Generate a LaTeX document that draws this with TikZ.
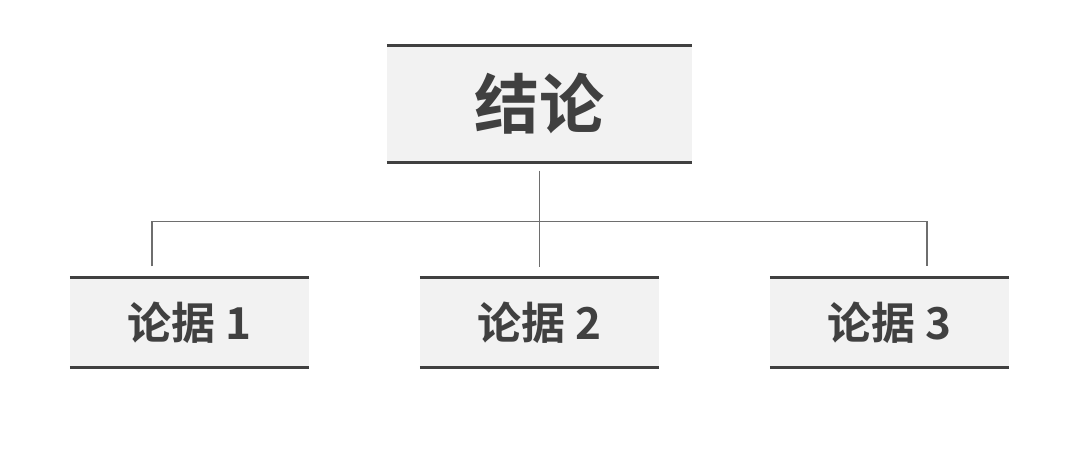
\documentclass[tikz,border=0pt]{standalone}
\usepackage{fontspec}
\setmainfont{Noto Sans CJK SC}[BoldFont={* Bold}]
\usepackage{xcolor}
\definecolor{boxfill}{RGB}{242,242,242}
\definecolor{barline}{RGB}{64,64,64}
\definecolor{linkline}{RGB}{110,110,110}
\usepackage{tikz}

\begin{document}
\begin{tikzpicture}[x=1pt,y=-1pt,
    card/.style={fill=boxfill, inner sep=0pt, text=barline, font=\bfseries},
    bar/.style={draw=barline, line width=3pt},
    link/.style={draw=linkline, line width=1.6pt}
]
    \useasboundingbox (0,0) rectangle (1080,465);
    % conclusion box
    \node [card, minimum width=305pt, minimum height=117pt, font=\bfseries\fontsize{65}{65}\selectfont] (conclusion) at (539.5,104) {结论};
    \draw [bar] (conclusion.north west) -- (conclusion.north east);
    \draw [bar] (conclusion.south west) -- (conclusion.south east);
    % argument boxes
    \foreach \n/\x in {1/189.5, 2/539.5, 3/889.5} {
        \node [card, minimum width=239pt, minimum height=90pt, font=\bfseries\fontsize{44}{44}\selectfont] (arg\n) at (\x,322.5) {论据 \n};
        \draw [bar] (arg\n.north west) -- (arg\n.north east);
        \draw [bar] (arg\n.south west) -- (arg\n.south east);
    }
    % connectors
    \coordinate (hub) at (539.5,221.5);
    \draw [link] ([yshift=-8pt]conclusion.south) -- ([yshift=10pt]arg2.north);
    \draw [link] ([xshift=-37.5pt,yshift=11pt]arg1.north) |- (hub) -| ([xshift=37.5pt,yshift=11pt]arg3.north);
\end{tikzpicture}
\end{document}
